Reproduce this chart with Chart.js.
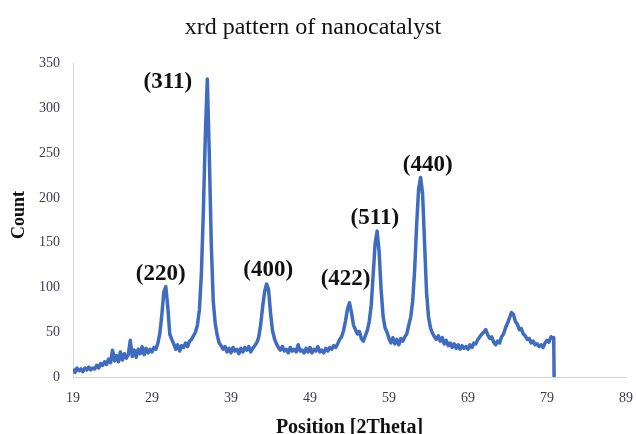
<!DOCTYPE html>
<html>
<head>
<meta charset="utf-8">
<script src="https://cdn.jsdelivr.net/npm/chart.js@4.4.0/dist/chart.umd.min.js"></script>
<style>
  html, body { margin: 0; padding: 0; background: #fff; }
  #wrap { width: 636px; height: 434px; position: relative; }
</style>
</head>
<body>
<div id="wrap"><canvas id="xrdChart"></canvas></div>
<script>
// 2theta positions (deg)
const twoTheta = [
  19.00, 19.25, 19.50, 19.75, 20.00, 20.25, 20.50, 20.75, 21.00, 21.25, 21.50, 21.75,
  22.00, 22.25, 22.50, 22.75, 23.00, 23.25, 23.50, 23.75, 24.00, 24.25, 24.50, 24.75,
  25.00, 25.25, 25.50, 25.75, 26.00, 26.25, 26.50, 26.75, 27.00, 27.25, 27.50, 27.75,
  28.00, 28.25, 28.50, 28.75, 29.00, 29.25, 29.50, 29.75, 30.00, 30.25, 30.50, 30.75,
  31.00, 31.25, 31.50, 31.75, 32.00, 32.25, 32.50, 32.75, 33.00, 33.25, 33.50, 33.75,
  34.00, 34.25, 34.50, 34.75, 35.00, 35.25, 35.50, 35.75, 36.00, 36.25, 36.50, 36.75,
  37.00, 37.25, 37.50, 37.75, 38.00, 38.25, 38.50, 38.75, 39.00, 39.25, 39.50, 39.75,
  40.00, 40.25, 40.50, 40.75, 41.00, 41.25, 41.50, 41.75, 42.00, 42.25, 42.50, 42.75,
  43.00, 43.25, 43.50, 43.75, 44.00, 44.25, 44.50, 44.75, 45.00, 45.25, 45.50, 45.75,
  46.00, 46.25, 46.50, 46.75, 47.00, 47.25, 47.50, 47.75, 48.00, 48.25, 48.50, 48.75,
  49.00, 49.25, 49.50, 49.75, 50.00, 50.25, 50.50, 50.75, 51.00, 51.25, 51.50, 51.75,
  52.00, 52.25, 52.50, 52.75, 53.00, 53.25, 53.50, 53.75, 54.00, 54.25, 54.50, 54.75,
  55.00, 55.25, 55.50, 55.75, 56.00, 56.25, 56.50, 56.75, 57.00, 57.25, 57.50, 57.75,
  58.00, 58.25, 58.50, 58.75, 59.00, 59.25, 59.50, 59.75, 60.00, 60.25, 60.50, 60.75,
  61.00, 61.25, 61.50, 61.75, 62.00, 62.25, 62.50, 62.75, 63.00, 63.25, 63.50, 63.75,
  64.00, 64.25, 64.50, 64.75, 65.00, 65.25, 65.50, 65.75, 66.00, 66.25, 66.50, 66.75,
  67.00, 67.25, 67.50, 67.75, 68.00, 68.25, 68.50, 68.75, 69.00, 69.25, 69.50, 69.75,
  70.00, 70.25, 70.50, 70.75, 71.00, 71.25, 71.50, 71.75, 72.00, 72.25, 72.50, 72.75,
  73.00, 73.25, 73.50, 73.75, 74.00, 74.25, 74.50, 74.75, 75.00, 75.25, 75.50, 75.75,
  76.00, 76.25, 76.50, 76.75, 77.00, 77.25, 77.50, 77.75, 78.00, 78.25, 78.50, 78.75,
  79.00, 79.25, 79.50, 79.75, 79.85, 79.90
];

// counts, same order as twoTheta
const counts = [
   9,   5,  10,   7,   9,   6,  10,   8,  11,   8,  10,   9,
  13,  10,  15,  13,  17,  14,  20,  16,  30,  18,  24,  17,
  28,  19,  26,  21,  25,  41,  23,  30,  22,  31,  26,  34,
  25,  32,  27,  31,  28,  33,  31,  38,  49,  70,  95, 101,
  78,  48,  42,  37,  31,  36,  29,  35,  33,  38,  34,  40,
  42,  46,  50,  58,  75, 115, 185, 270, 333, 250, 150,  85,
  60,  47,  38,  35,  31,  34,  28,  32,  27,  33,  29,  31,
  26,  32,  28,  33,  30,  34,  28,  32,  35,  38,  44,  58,
  78,  95, 104,  98,  72,  52,  43,  37,  33,  30,  34,  29,
  31,  27,  33,  29,  31,  28,  36,  29,  30,  27,  32,  28,
  33,  27,  31,  29,  34,  28,  30,  27,  32,  29,  33,  31,
  35,  33,  37,  42,  45,  52,  63,  76,  83,  72,  58,  53,
  48,  51,  43,  40,  46,  52,  62,  80, 115, 150, 163, 140,
  98,  68,  55,  50,  43,  38,  44,  37,  42,  36,  43,  40,
  45,  48,  58,  67,  85, 120, 170, 210, 223, 205, 150,  95,
  67,  55,  49,  45,  42,  46,  40,  44,  37,  41,  35,  38,
  33,  37,  32,  36,  31,  35,  32,  34,  31,  36,  33,  38,
  37,  42,  45,  48,  50,  53,  47,  43,  45,  39,  36,  40,
  38,  45,  48,  55,  60,  66,  72,  70,  62,  59,  53,  54,
  48,  46,  42,  43,  38,  40,  36,  37,  34,  36,  33,  38,
  41,  39,  45,  43,  44,   0
];

const xTicks = [19, 29, 39, 49, 59, 69, 79, 89];
const yTicks = [0, 50, 100, 150, 200, 250, 300, 350];

// miller indices and where their labels sit (data coords)
const peakLabels = ["(220)", "(311)", "(400)", "(422)", "(511)", "(440)"];
const peakLabelX = [30.1, 31.0, 43.7, 53.5, 57.2, 63.9];
const peakLabelY = [115, 330, 119, 109, 178, 237];

const COLOR = {
  line: "#3f6cc0",
  axis: "#d4d4d4",
  tick: "#3c3c50",
  text: "#111111",
};
const SERIF = "'Liberation Serif', 'Times New Roman', serif";

// peak labels + rotated y title
const annotatePlugin = {
  id: "annotate",
  afterDatasetsDraw(chart) {
    const { ctx, scales } = chart;
    ctx.save();
    ctx.fillStyle = COLOR.text;
    ctx.font = "bold 23px " + SERIF;
    ctx.textAlign = "center";
    ctx.textBaseline = "middle";
    peakLabels.forEach((txt, i) => {
      ctx.fillText(txt, scales.x.getPixelForValue(peakLabelX[i]), scales.y.getPixelForValue(peakLabelY[i]));
    });
    // "Count"
    ctx.font = "bold 18px " + SERIF;
    ctx.translate(19, 215);
    ctx.rotate(-Math.PI / 2);
    ctx.fillText("Count", 0, 0);
    ctx.restore();
  },
};

const ctx = document.getElementById("xrdChart").getContext("2d");
new Chart(ctx, {
  type: "line",
  data: {
    datasets: [
      {
        label: "XRD",
        data: twoTheta.map((t, i) => ({ x: t, y: counts[i] })),
        borderColor: COLOR.line,
        backgroundColor: COLOR.line,
        borderWidth: 3.5,
        pointRadius: 0,
        tension: 0,
        fill: false,
        borderJoinStyle: "round",
      },
    ],
  },
  options: {
    responsive: true,
    maintainAspectRatio: false,
    animation: false,
    layout: { padding: { left: 0, right: 10, top: 0, bottom: 0 } },
    plugins: {
      legend: { display: false },
      tooltip: { enabled: false },
      title: {
        display: true,
        text: "xrd pattern of nanocatalyst",
        color: COLOR.text,
        font: { family: SERIF, size: 24, weight: "normal" },
        padding: { top: 13, bottom: 22 },
      },
    },
    scales: {
      x: {
        type: "linear",
        min: 19,
        max: 89,
        afterBuildTicks: scale => {
          scale.ticks = xTicks.map(v => ({ value: v }));
        },
        afterFit: scale => {
          scale.height = 57;
          scale.paddingLeft = 0;
          scale.paddingRight = 0;
        },
        grid: { display: false, drawTicks: false },
        border: { display: true, color: COLOR.axis, width: 1 },
        ticks: {
          color: COLOR.tick,
          font: { family: SERIF, size: 14 },
          padding: 13,
          maxRotation: 0,
          autoSkip: false,
        },
        title: {
          display: true,
          text: "Position [2Theta]",
          color: COLOR.text,
          font: { family: SERIF, size: 20, weight: "bold", lineHeight: 1 },
          padding: { top: 0, bottom: -4 },
        },
      },
      y: {
        type: "linear",
        min: 0,
        max: 350,
        afterBuildTicks: scale => {
          scale.ticks = yTicks.map(v => ({ value: v }));
        },
        afterFit: scale => {
          scale.width = 73;
        },
        grid: { display: false, drawTicks: false },
        border: { display: true, color: COLOR.axis, width: 1 },
        ticks: {
          color: COLOR.tick,
          font: { family: SERIF, size: 14 },
          padding: 13,
        },
      },
    },
  },
  plugins: [annotatePlugin],
});
</script>
</body>
</html>
